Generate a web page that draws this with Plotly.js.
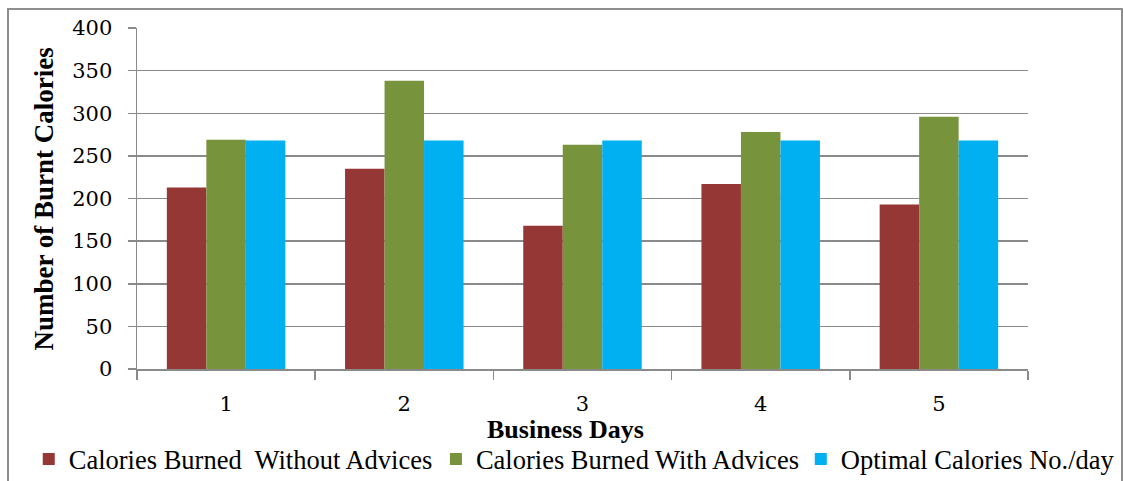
<!DOCTYPE html>
<html>
<head>
<meta charset="utf-8">
<script src="https://cdn.plot.ly/plotly-3.0.1.min.js"></script>
<style>
  html, body { margin: 0; padding: 0; background: #ffffff; }
  #wrap { position: relative; width: 1123px; height: 481px; overflow: hidden; }
  #chart { position: absolute; left: 0; top: 0; width: 1123px; height: 481px; }
  #frame {
    position: absolute; left: 7px; top: 8px; width: 1116px; height: 500px;
    box-sizing: border-box; border: 2px solid #8e8e8e; pointer-events: none;
  }
</style>
</head>
<body>
<div id="wrap">
  <div id="chart"></div>
  <div id="frame"></div>
</div>
<script>
// Business days on the x axis
const days = ['1', '2', '3', '4', '5'];

// Calories burned per day for each series
const withoutAdvices = [213, 235, 168, 217, 193];
const withAdvices = [269, 338, 263, 278, 296];
const optimalCalories = [268, 268, 268, 268, 268];

// Series names and y tick labels
const seriesNames = [
  'Calories Burned  Without Advices',
  'Calories Burned With Advices',
  'Optimal Calories No./day'
];
const yTicks = [0, 50, 100, 150, 200, 250, 300, 350, 400];

const colors = ['#953735', '#77933C', '#00B0F0'];
const seriesValues = [withoutAdvices, withAdvices, optimalCalories];
// each series gets its own legend box so the row can be laid out freely
const legendIds = ['legend', 'legend2', 'legend3'];
const legendX = [-0.1215, 0.3355, 0.745];

const traces = seriesValues.map((vals, i) => ({
  type: 'bar',
  x: days,
  y: vals,
  name: seriesNames[i],
  legend: legendIds[i],
  marker: { color: colors[i] },
  hoverinfo: 'x+y+name'
}));

const gridColor = '#8a8a8a';
const serif = '"Liberation Serif", "Times New Roman", serif';

const layout = {
  width: 1123,
  height: 481,
  margin: { l: 137, r: 95, t: 28, b: 112, pad: 0, autoexpand: false },
  paper_bgcolor: '#ffffff',
  plot_bgcolor: '#ffffff',
  barmode: 'group',
  bargap: 0.335,
  bargroupgap: 0,
  font: { family: serif, color: '#000000' },
  xaxis: {
    type: 'category',
    tickson: 'boundaries',
    ticks: 'outside',
    ticklen: 9,
    tickwidth: 1.5,
    tickcolor: gridColor,
    showline: true,
    linecolor: gridColor,
    linewidth: 1.5,
    showgrid: false,
    zeroline: false,
    ticklabelstandoff: 15,
    tickfont: { family: '"DejaVu Serif", serif', size: 21, color: '#000000' },
    fixedrange: true
  },
  yaxis: {
    range: [0, 400],
    tickvals: yTicks,
    ticktext: yTicks.map(String),
    ticks: 'outside',
    ticklen: 8,
    tickwidth: 1.5,
    tickcolor: gridColor,
    showline: true,
    linecolor: gridColor,
    linewidth: 1.5,
    showgrid: true,
    gridcolor: gridColor,
    gridwidth: 1.5,
    zeroline: false,
    ticklabelstandoff: 11,
    tickfont: { family: '"DejaVu Serif", serif', size: 21, color: '#000000' },
    fixedrange: true
  },
  showlegend: true,
  annotations: [
    {
      text: '<b>Business Days</b>',
      xref: 'paper', yref: 'paper',
      x: 0.481, y: -0.176,
      xanchor: 'center', yanchor: 'middle',
      showarrow: false,
      font: { family: serif, size: 26, color: '#000000' }
    },
    {
      text: '<b>Number of Burnt Calories</b>',
      xref: 'paper', yref: 'paper',
      x: -0.1044, y: 0.5,
      xanchor: 'center', yanchor: 'middle',
      textangle: -90,
      showarrow: false,
      font: { family: serif, size: 27, color: '#000000' }
    }
  ]
};

legendIds.forEach((id, i) => {
  layout[id] = {
    orientation: 'h',
    x: legendX[i],
    xanchor: 'left',
    y: -0.265,
    yanchor: 'middle',
    font: { family: serif, size: 26.5, color: '#000000' },
    bgcolor: 'rgba(0,0,0,0)',
    borderwidth: 0
  };
});

Plotly.newPlot('chart', traces, layout, { displayModeBar: false, staticPlot: true });
</script>
</body>
</html>
